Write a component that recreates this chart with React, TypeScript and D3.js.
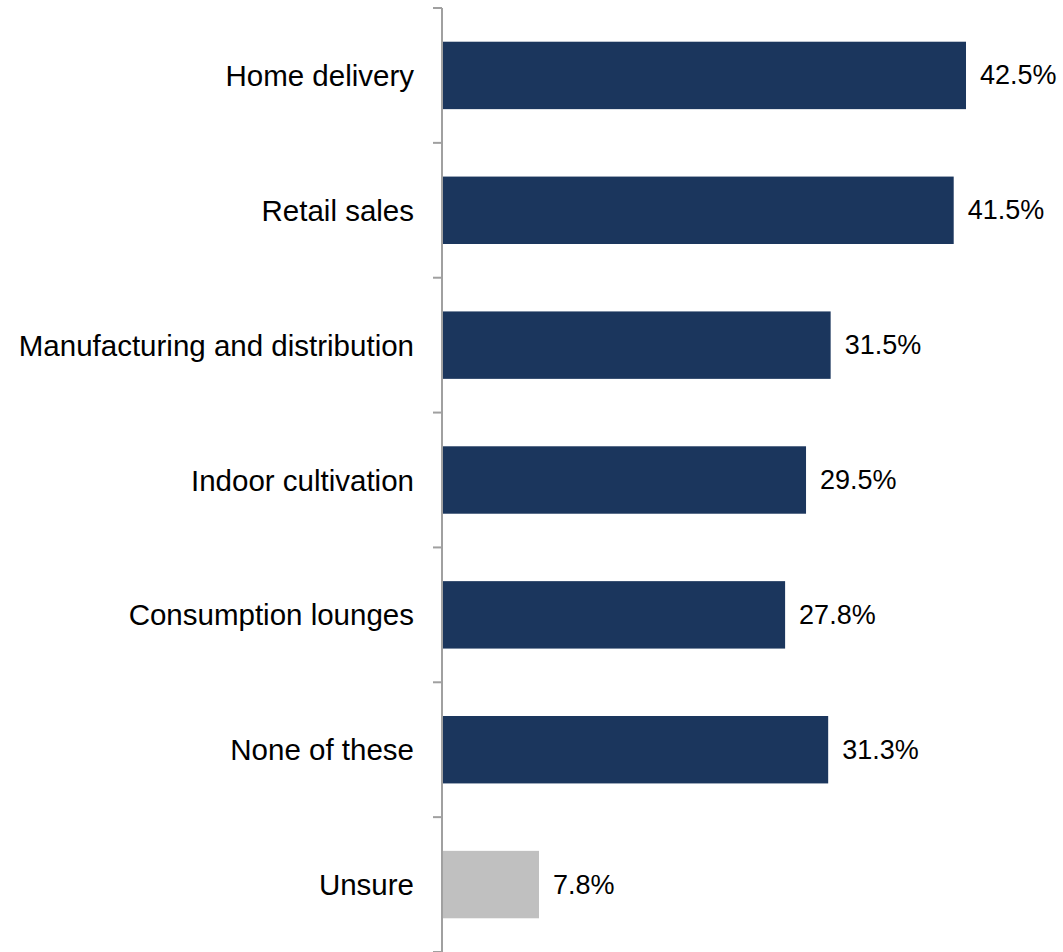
import React from "react";
import * as d3 from "d3";

const categories = [
  "Home delivery",
  "Retail sales",
  "Manufacturing and distribution",
  "Indoor cultivation",
  "Consumption lounges",
  "None of these",
  "Unsure",
];
const values = [42.5, 41.5, 31.5, 29.5, 27.8, 31.3, 7.8];
const barColors = ["#1b365d", "#1b365d", "#1b365d", "#1b365d", "#1b365d", "#1b365d", "#c0c0c0"];

const W = 1063;
const H = 952;
const axisX = 442;

export default function App() {
  const y = d3.scaleBand<string>().domain(categories).range([8, 952]).paddingInner(0.5).paddingOuter(0.25);
  const x = d3.scaleLinear().domain([0, 45]).range([443, 443 + 45 * 12.306]);
  const step = y.step();
  const ticks = d3.range(categories.length + 1).map((i) => 8 + i * step);
  const font = "'Liberation Sans', Arial, Helvetica, sans-serif";
  return (
    <svg width={W} height={H} style={{ position: "absolute", left: 0, top: 0, background: "#fff" }}>
      {categories.map((c, i) => (
        <g key={c}>
          <rect x={x(0)} y={y(c)} width={x(values[i]) - x(0)} height={y.bandwidth()} fill={barColors[i]} />
          <text
            x={414}
            y={y(c)! + y.bandwidth() / 2}
            textAnchor="end"
            dominantBaseline="central"
            fontFamily={font}
            fontSize={29.5}
            fill="#000"
          >
            {c}
          </text>
          <text
            x={x(values[i]) + 14}
            y={y(c)! + y.bandwidth() / 2}
            dominantBaseline="central"
            fontFamily={font}
            fontSize={27}
            fill="#000"
          >
            {values[i].toFixed(1)}%
          </text>
        </g>
      ))}
      <line x1={axisX} x2={axisX} y1={8} y2={952} stroke="#a0a0a0" strokeWidth={2} />
      {ticks.map((t, i) => (
        <line key={i} x1={433} x2={axisX} y1={t} y2={t} stroke="#a0a0a0" strokeWidth={2} />
      ))}
    </svg>
  );
}
